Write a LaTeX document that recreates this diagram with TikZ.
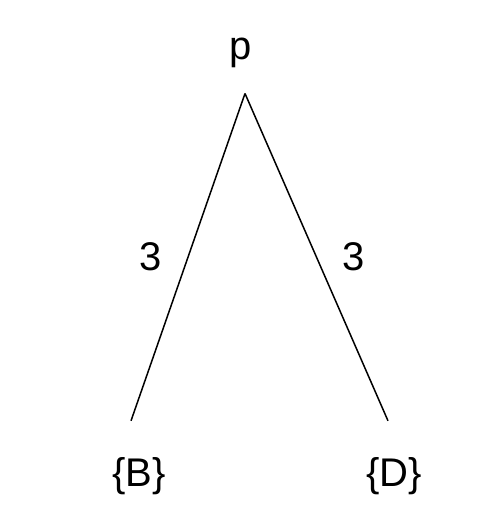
\documentclass[tikz,border=0pt]{standalone}
\usepackage{fontspec}
\setmainfont{Liberation Sans}

\begin{document}
\begin{tikzpicture}[x=1pt,y=-1pt]
	\tikzset{VertexStyle/.style =
		{inner sep = 2pt,
			font = \fontsize{40}{46}\selectfont,
			anchor = base},
		EdgeStyle/.style = {line width = 1.5pt, black},
		WeightStyle/.style = {inner sep = 0pt,
			font = \fontsize{40}{46}\selectfont}}
	\useasboundingbox (0,0) rectangle (478,522);
	\node[VertexStyle] (p) at (241,59) {p};
	\node[VertexStyle] (B) at (139,486) {\{B\}};
	\node[VertexStyle] (D) at (394,486) {\{D\}};
	%edges from the root
	\draw[EdgeStyle] ([xshift=4pt,yshift=-24pt]p.south) -- node[WeightStyle, midway, left=26pt] {3} ([xshift=-8pt,yshift=34pt]B.north);
	\draw[EdgeStyle] ([xshift=4pt,yshift=-24pt]p.south) -- node[WeightStyle, midway, right=25pt] {3} ([xshift=-6pt,yshift=34pt]D.north);
\end{tikzpicture}
\end{document}
